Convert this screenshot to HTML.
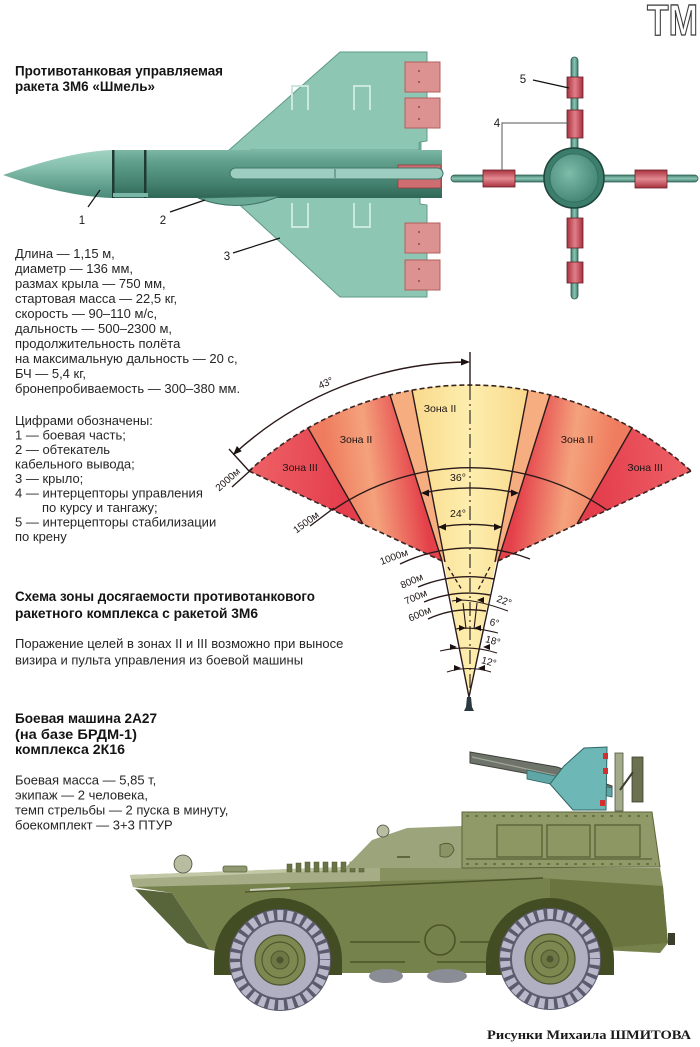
<!DOCTYPE html>
<html><head><meta charset="utf-8">
<style>
html,body{margin:0;padding:0;background:#fff;}
svg{display:block;}
text{font-family:"Liberation Sans",Arial,sans-serif;}
</style></head>
<body>
<svg width="700" height="1047" viewBox="0 0 700 1047" xmlns="http://www.w3.org/2000/svg">
<defs>
  <linearGradient id="gIIIl" x1="249" y1="471" x2="345" y2="480" gradientUnits="userSpaceOnUse"><stop offset="0" stop-color="#ee6266"/><stop offset="1" stop-color="#e43e4d"/></linearGradient>
  <linearGradient id="gIIl" x1="330" y1="472" x2="418" y2="460" gradientUnits="userSpaceOnUse"><stop offset="0" stop-color="#ef7c5e"/><stop offset="0.45" stop-color="#f4a27c"/><stop offset="1" stop-color="#e4404a"/></linearGradient>
  <linearGradient id="gIIr" x1="522" y1="460" x2="610" y2="472" gradientUnits="userSpaceOnUse"><stop offset="0" stop-color="#e4404a"/><stop offset="0.55" stop-color="#f4a27c"/><stop offset="1" stop-color="#ef7c5e"/></linearGradient>
  <linearGradient id="gIIIr" x1="595" y1="480" x2="691" y2="471" gradientUnits="userSpaceOnUse"><stop offset="0" stop-color="#e43e4d"/><stop offset="1" stop-color="#ee6266"/></linearGradient>
  <linearGradient id="gY" x1="412" y1="0" x2="528" y2="0" gradientUnits="userSpaceOnUse"><stop offset="0" stop-color="#f9d98c"/><stop offset="0.5" stop-color="#fdeeae"/><stop offset="1" stop-color="#f9d98c"/></linearGradient>
  <linearGradient id="gBody" x1="0" y1="150" x2="0" y2="198" gradientUnits="userSpaceOnUse"><stop offset="0" stop-color="#7db7a5"/><stop offset="0.25" stop-color="#5f9f8c"/><stop offset="0.7" stop-color="#44826f"/><stop offset="1" stop-color="#2f6656"/></linearGradient>
  <linearGradient id="gNose" x1="0" y1="150" x2="0" y2="198" gradientUnits="userSpaceOnUse"><stop offset="0" stop-color="#a2d3c3"/><stop offset="0.35" stop-color="#86c0ae"/><stop offset="1" stop-color="#4a8a78"/></linearGradient>
  <radialGradient id="gDisc" cx="0.4" cy="0.4" r="0.7"><stop offset="0" stop-color="#7fbcaa"/><stop offset="1" stop-color="#3e806e"/></radialGradient>
  <linearGradient id="gRedV" x1="0" y1="0" x2="1" y2="0"><stop offset="0" stop-color="#a8323e"/><stop offset="0.5" stop-color="#e07e88"/><stop offset="1" stop-color="#a8323e"/></linearGradient>
  <linearGradient id="gRedH" x1="0" y1="0" x2="0" y2="1"><stop offset="0" stop-color="#a8323e"/><stop offset="0.5" stop-color="#e48a92"/><stop offset="1" stop-color="#a8323e"/></linearGradient>
  <linearGradient id="gRodV" x1="0" y1="0" x2="1" y2="0"><stop offset="0" stop-color="#3f7c6c"/><stop offset="0.5" stop-color="#8cc6b5"/><stop offset="1" stop-color="#3f7c6c"/></linearGradient>
  <linearGradient id="gRodH" x1="0" y1="0" x2="0" y2="1"><stop offset="0" stop-color="#3f7c6c"/><stop offset="0.5" stop-color="#8cc6b5"/><stop offset="1" stop-color="#3f7c6c"/></linearGradient>
</defs>
<rect width="700" height="1047" fill="#fff"/>

<!-- TM logo -->
<text x="647" y="35" font-size="44" font-weight="bold" fill="#fff" stroke="#3a3a3a" stroke-width="1.3" textLength="51" lengthAdjust="spacingAndGlyphs">ТМ</text>

<!-- Title -->
<g font-weight="bold" font-size="13.5" fill="#141414">
  <text x="15" y="75.5" textLength="208" lengthAdjust="spacingAndGlyphs">Противотанковая управляемая</text>
  <text x="15" y="91" textLength="140" lengthAdjust="spacingAndGlyphs">ракета 3М6 «Шмель»</text>
</g>

<!-- ===== Missile side view ===== -->
<g>
  <path d="M228,151 L340,52 L427,52 L427,141 L420,142 L420,151 Z" fill="#8ec6b4" stroke="#5d998a" stroke-width="1"/>
  <path d="M230,196 L340,297 L427,297 L427,205 L420,204 L420,196 Z" fill="#8ec6b4" stroke="#5d998a" stroke-width="1"/>
  <path d="M250,151 L420,151 L420,142" fill="none" stroke="#6aa896" stroke-width="3"/>
  <g fill="none" stroke="#cbe8de" stroke-width="2">
    <path d="M292,110 L292,86 L308,86 L308,110"/>
    <path d="M354,110 L354,86 L370,86 L370,110"/>
    <path d="M292,203 L292,227 L308,227 L308,203"/>
    <path d="M354,203 L354,227 L370,227 L370,203"/>
  </g>
  <g fill="#dc9290" stroke="#b2605e" stroke-width="1">
    <rect x="405" y="62" width="35" height="30"/>
    <rect x="405" y="98" width="35" height="30"/>
    <rect x="405" y="223" width="35" height="30"/>
    <rect x="405" y="260" width="35" height="30"/>
  </g>
  <g fill="#8a4a48">
    <circle cx="419" cy="71" r="1"/><circle cx="419" cy="82" r="1"/>
    <circle cx="419" cy="107" r="1"/><circle cx="419" cy="119" r="1"/>
    <circle cx="419" cy="232" r="1"/><circle cx="419" cy="244" r="1"/>
    <circle cx="419" cy="269" r="1"/><circle cx="419" cy="281" r="1"/>
  </g>
  <rect x="112" y="150" width="330" height="48" fill="url(#gBody)"/>
  <path d="M3,175 C40,162 80,151 112,150 L112,198 C80,197 40,188 3,175 Z" fill="url(#gNose)"/>
  <rect x="112" y="150" width="2.5" height="48" fill="#1e3b33"/>
  <rect x="144" y="150" width="2.5" height="48" fill="#1e3b33"/>
  <rect x="398" y="165" width="43" height="23" fill="#cf6e72" stroke="#8f3e42" stroke-width="0.8"/>
  <rect x="230" y="168" width="213" height="11" rx="5.5" fill="#9ccdbf" stroke="#3f7868" stroke-width="1"/>
  <line x1="335" y1="169" x2="335" y2="178" stroke="#3f7868" stroke-width="1"/>
  <path d="M198,198 Q238,214 280,196 Z" fill="#6aa896" stroke="#3d7263" stroke-width="1"/>
  <rect x="113" y="193" width="35" height="4" fill="#7ab6a5"/>
  <line x1="88" y1="207" x2="100" y2="190" stroke="#111" stroke-width="1.2"/>
  <line x1="170" y1="212" x2="205" y2="200" stroke="#111" stroke-width="1.2"/>
  <line x1="233" y1="253" x2="280" y2="238" stroke="#111" stroke-width="1.2"/>
  <g font-size="11.5" fill="#1a1a1a" text-anchor="middle">
    <text x="82" y="224">1</text>
    <text x="163" y="224">2</text>
    <text x="227" y="260">3</text>
  </g>
</g>

<!-- ===== Missile front view ===== -->
<g>
  <rect x="571" y="57" width="7" height="242" rx="3.5" fill="url(#gRodV)" stroke="#2c5a4d" stroke-width="0.8"/>
  <rect x="451" y="175" width="247" height="7" rx="3.5" fill="url(#gRodH)" stroke="#2c5a4d" stroke-width="0.8"/>
  <g stroke="#6a2028" stroke-width="0.8">
    <rect x="567" y="77" width="16" height="21" fill="url(#gRedV)"/>
    <rect x="567" y="110" width="16" height="28" fill="url(#gRedV)"/>
    <rect x="567" y="218" width="16" height="30" fill="url(#gRedV)"/>
    <rect x="567" y="262" width="16" height="21" fill="url(#gRedV)"/>
    <rect x="483" y="170" width="32" height="17" fill="url(#gRedH)"/>
    <rect x="635" y="170" width="32" height="18" fill="url(#gRedH)"/>
  </g>
  <circle cx="574" cy="178" r="30" fill="#3c7d6c" stroke="#1d443a" stroke-width="1.5"/>
  <circle cx="574" cy="178" r="24" fill="url(#gDisc)" stroke="#2f6a5a" stroke-width="0.8"/>
  <line x1="533" y1="80" x2="569" y2="88" stroke="#111" stroke-width="1.2"/>
  <polyline points="569,123 502,123 502,171" fill="none" stroke="#555" stroke-width="1"/>
  <g font-size="11.5" fill="#1a1a1a" text-anchor="middle">
    <text x="523" y="83">5</text>
    <text x="497" y="127">4</text>
  </g>
</g>

<!-- ===== Spec text ===== -->
<g font-size="13" fill="#262626">
  <text x="15" y="258">Длина — 1,15 м,</text>
  <text x="15" y="273">диаметр — 136 мм,</text>
  <text x="15" y="288">размах крыла — 750 мм,</text>
  <text x="15" y="303">стартовая масса — 22,5 кг,</text>
  <text x="15" y="318">скорость — 90–110 м/с,</text>
  <text x="15" y="333">дальность — 500–2300 м,</text>
  <text x="15" y="348">продолжительность полёта</text>
  <text x="15" y="363">на максимальную дальность — 20 с,</text>
  <text x="15" y="378">БЧ — 5,4 кг,</text>
  <text x="15" y="393">бронепробиваемость — 300–380 мм.</text>
  <text x="15" y="425">Цифрами обозначены:</text>
  <text x="15" y="439.5">1 — боевая часть;</text>
  <text x="15" y="454">2 — обтекатель</text>
  <text x="15" y="468.5">кабельного вывода;</text>
  <text x="15" y="483">3 — крыло;</text>
  <text x="15" y="497.5">4 — интерцепторы управления</text>
  <text x="42" y="512">по курсу и тангажу;</text>
  <text x="15" y="526.5">5 — интерцепторы стабилизации</text>
  <text x="15" y="541">по крену</text>
</g>

<!-- ===== Fan diagram ===== -->
<g>
  <path d="M249,471 A327,327 0 0,1 308,428 L363,524 Z" fill="url(#gIIIl)"/>
  <path d="M308,428 A327,327 0 0,1 390,395 L442,561 L363,524 Z" fill="url(#gIIl)"/>
  <path d="M390,395 A327,327 0 0,1 412,390 L445,562 L442,561 Z" fill="#f6ae80"/>
  <path d="M412,390 A327,327 0 0,1 528,390 L496,562 L469,697 L444,562 Z" fill="url(#gY)"/>
  <path d="M528,390 A327,327 0 0,1 550,395 L498,561 L495,562 Z" fill="#f6ae80"/>
  <path d="M550,395 A327,327 0 0,1 632,428 L577,524 L498,561 Z" fill="url(#gIIr)"/>
  <path d="M632,428 A327,327 0 0,1 691,471 L577,524 Z" fill="url(#gIIIr)"/>

  <g fill="none" stroke="#3a2424" stroke-width="1.6" stroke-dasharray="5,3">
    <path d="M249,471 A327,327 0 0,1 691,471"/>
    <path d="M249,471 L442,561"/>
    <path d="M691,471 L498,561"/>
  </g>
  <g fill="none" stroke="#2a1a1a" stroke-width="1.4">
    <line x1="308" y1="428" x2="363" y2="524"/>
    <line x1="390" y1="395" x2="442" y2="561"/>
    <line x1="412" y1="390" x2="445" y2="562"/>
    <line x1="528" y1="390" x2="495" y2="562"/>
    <line x1="550" y1="395" x2="498" y2="561"/>
    <line x1="632" y1="428" x2="577" y2="524"/>
    <line x1="442" y1="561" x2="469" y2="697"/>
    <line x1="498" y1="561" x2="469" y2="697"/>
    <path d="M333,510 A243,243 0 0,1 607,510"/>
    <path d="M423,493 A224,224 0 0,1 517,493"/>
    <path d="M439,527 A187,187 0 0,1 501,527"/>
    <path d="M400,564 A164,164 0 0,1 530,559"/>
    <path d="M418,587 A135,135 0 0,1 494,579"/>
    <path d="M424,602 A119,119 0 0,1 490,595"/>
    <path d="M428,619 A102,102 0 0,1 486,611"/>
    <path d="M234,454 A350,350 0 0,1 468,362"/>
    <line x1="249" y1="471" x2="229" y2="449"/>
    <line x1="232" y1="487" x2="252" y2="469"/>
    <line x1="310" y1="526" x2="334" y2="508"/>
    <line x1="470" y1="352" x2="470" y2="386"/>
  </g>
  <g fill="none" stroke="#2a1a1a" stroke-width="1.1">
    <path d="M452,601 Q470,597 508,611"/>
    <path d="M456,629 Q469,626 498,633"/>
    <path d="M440,651 Q469,644 497,653"/>
    <path d="M447,672 Q469,665 491,672"/>
    <line x1="463" y1="603" x2="466" y2="629"/>
    <line x1="477" y1="603" x2="474" y2="629"/>
  </g>
  <g fill="none" stroke="#2a1a1a" stroke-width="1.3" stroke-dasharray="4,3">
    <line x1="448" y1="567" x2="462" y2="590"/>
    <line x1="490" y1="567" x2="478" y2="590"/>
  </g>
  <line x1="470" y1="386" x2="470" y2="700" stroke="#2a1a1a" stroke-width="1.1" stroke-dasharray="14,4,2,4"/>
  <g fill="#1a1010">
    <polygon points="470,362 461,358.5 461,365.5"/>
    <polygon points="233,455 241.7,451.2 236.9,446"/>
    <polygon points="421,493 429,489.5 429,496.5"/>
    <polygon points="519,493 511,489.5 511,496.5"/>
    <polygon points="438,527 446,523.5 446,530.5"/>
    <polygon points="502,527 494,523.5 494,530.5"/>
    <polygon points="463,600 456,597 456,603"/>
    <polygon points="477,600 484,597 484,603"/>
    <polygon points="466,628 459,625 459,631"/>
    <polygon points="474,628 481,625 481,631"/>
    <polygon points="457,647 450,644 450,650"/>
    <polygon points="483,647 490,644 490,650"/>
    <polygon points="461,668 454,665 454,671"/>
    <polygon points="478,668 485,665 485,671"/>
  </g>
  <path d="M467,697 L471,697 L472,707 L474,711 L464,711 L466,707 Z" fill="#2a3a40"/>

  <g font-size="10.5" fill="#1e1414" text-anchor="middle">
    <text x="300" y="471">Зона III</text>
    <text x="356" y="443">Зона II</text>
    <text x="440" y="412">Зона II</text>
    <text x="577" y="443">Зона II</text>
    <text x="645" y="471">Зона III</text>
    <text x="458" y="481">36°</text>
    <text x="458" y="517">24°</text>
  </g>
  <g font-size="10" fill="#1e1414" text-anchor="middle">
    <text transform="translate(327,386) rotate(-24)">43°</text>
    <text transform="translate(230,482) rotate(-42)">2000м</text>
    <text transform="translate(308,525) rotate(-37)">1500м</text>
    <text transform="translate(395,560) rotate(-20)">1000м</text>
    <text transform="translate(413,584) rotate(-24)">800м</text>
    <text transform="translate(417,600) rotate(-24)">700м</text>
    <text transform="translate(421,617) rotate(-24)">600м</text>
    <text transform="translate(503,604) rotate(20)">22°</text>
    <text transform="translate(494,626) rotate(10)">6°</text>
    <text transform="translate(492,644) rotate(15)">18°</text>
    <text transform="translate(488,665) rotate(15)">12°</text>
  </g>
</g>

<!-- ===== Section 2 text ===== -->
<g font-weight="bold" font-size="13.5" fill="#141414">
  <text x="15" y="601" textLength="300" lengthAdjust="spacingAndGlyphs">Схема зоны досягаемости противотанкового</text>
  <text x="15" y="618" textLength="243" lengthAdjust="spacingAndGlyphs">ракетного комплекса с ракетой 3М6</text>
  <text x="15" y="723" textLength="142" lengthAdjust="spacingAndGlyphs">Боевая машина 2А27</text>
  <text x="15" y="739" textLength="122" lengthAdjust="spacingAndGlyphs">(на базе БРДМ-1)</text>
  <text x="15" y="754" textLength="110" lengthAdjust="spacingAndGlyphs">комплекса 2К16</text>
</g>
<g font-size="13" fill="#262626">
  <text x="15" y="648">Поражение целей в зонах II и III возможно при выносе</text>
  <text x="15" y="664.5">визира и пульта управления из боевой машины</text>
  <text x="15" y="784.5">Боевая масса — 5,85 т,</text>
  <text x="15" y="799.5">экипаж — 2 человека,</text>
  <text x="15" y="814.5">темп стрельбы — 2 пуска в минуту,</text>
  <text x="15" y="829.5">боекомплект — 3+3 ПТУР</text>
</g>

<!-- ===== Vehicle ===== -->
<g>
  <!-- launcher -->
  <path d="M470,752 L557,767 L612,786 L612,795 L557,779 L470,763 Z" fill="#6f746a" stroke="#3c3f38" stroke-width="1"/>
  <line x1="472" y1="757" x2="600" y2="785" stroke="#a2a69a" stroke-width="1.2"/>
  <path d="M527,770 L612,788 L612,797 L527,779 Z" fill="#5fa7a6" stroke="#2f6566" stroke-width="0.8"/>
  <path d="M550,784 L564,766 L584,748 L607,747 L606,810 L573,810 Z" fill="#6db8b6" stroke="#2f6566" stroke-width="1"/>
  <rect x="603" y="753" width="5" height="6" fill="#d03030"/>
  <rect x="603" y="768" width="5" height="6" fill="#d03030"/>
  <rect x="600" y="800" width="5" height="6" fill="#d03030"/>
  <rect x="615" y="753" width="8" height="58" fill="#a4aa8c" stroke="#4e5440" stroke-width="0.8"/>
  <rect x="632" y="757" width="11" height="45" fill="#6a7050" stroke="#3a3e2c" stroke-width="0.8"/>
  <line x1="620" y1="790" x2="633" y2="772" stroke="#3a3e2c" stroke-width="2"/>

  <!-- hull main -->
  <path d="M133,887 L172,893 L210,950 L340,973 L497,973 L603,950 L660,953 L668,943 L663,887 L660,868 L462,868 L380,868 L130,875 Z" fill="#76824c"/>
  <!-- front deck light band -->
  <path d="M130,875 L345,867 L380,868 L380,881 L133,887 Z" fill="#a5ac86"/>
  <path d="M130,875 L345,867 L345,870 L131,879 Z" fill="#c2c7a6"/>
  <!-- band under cabin/box -->
  <path d="M380,868 L660,868 L663,886 L543,878 L380,881 Z" fill="#87915f"/>
  <!-- rear darker side -->
  <path d="M550,879 L663,886 L668,943 L603,948 L550,930 Z" fill="#69743f"/>
  <!-- dark lower bow -->
  <path d="M135,889 L172,893 L210,950 L187,943 Z" fill="#58643a"/>
  <!-- handrail -->
  <line x1="370" y1="886" x2="543" y2="878" stroke="#4a5428" stroke-width="1.5"/>
  <line x1="245" y1="892" x2="370" y2="886" stroke="#4a5428" stroke-width="1.2"/>
  <line x1="250" y1="890" x2="290" y2="888" stroke="#c9ccb8" stroke-width="2"/>
  <!-- deck hatch -->
  <rect x="223" y="866" width="24" height="6" rx="2" fill="#8f9870" stroke="#5a6438" stroke-width="0.8"/>
  <!-- deck bumps -->
  <g fill="#6a7446" stroke="#4a5428" stroke-width="0.5">
    <rect x="287" y="864" width="5" height="8"/><rect x="296" y="863" width="5" height="9"/>
    <rect x="305" y="862" width="5" height="10"/><rect x="314" y="862" width="5" height="10"/>
    <rect x="323" y="862" width="5" height="10"/><rect x="332" y="862" width="5" height="10"/>
    <rect x="341" y="862" width="5" height="10"/><rect x="350" y="862" width="5" height="10"/>
    <rect x="359" y="862" width="5" height="10"/>
  </g>
  <!-- cabin -->
  <path d="M345,868 L372,840 L407,828 L462,826 L462,868 Z" fill="#9ca47b"/>
  <path d="M440,845 Q452,840 454,850 Q450,860 440,856 Z" fill="#8a9366" stroke="#4a5428" stroke-width="0.8"/>
  <line x1="397" y1="857" x2="410" y2="857" stroke="#4a5428" stroke-width="1.5"/>
  <circle cx="383" cy="831" r="6" fill="#b8bca0" stroke="#4a4a3a" stroke-width="0.8"/>
  <circle cx="183" cy="864" r="9" fill="#b8bca0" stroke="#4a4a3a" stroke-width="0.8"/>
  <!-- box -->
  <path d="M462,812 L652,812 L660,867 L462,868 Z" fill="#8f9a68" stroke="#5b6638" stroke-width="1"/>
  <line x1="466" y1="816" x2="648" y2="816" stroke="#5b6638" stroke-width="1.4" stroke-dasharray="3,6"/>
  <line x1="466" y1="864" x2="656" y2="864" stroke="#5b6638" stroke-width="1.4" stroke-dasharray="3,6"/>
  <g fill="#8c9764" stroke="#566135" stroke-width="1.3">
    <rect x="497" y="825" width="45" height="32"/>
    <rect x="547" y="825" width="43" height="32"/>
    <rect x="595" y="825" width="45" height="32"/>
  </g>
  <line x1="466" y1="859" x2="652" y2="859" stroke="#566135" stroke-width="1.2"/>
  <!-- arches -->
  <path d="M214,975 L214,960 A64,62 0 0,1 342,960 L342,975 Z" fill="#434d24"/>
  <path d="M486,975 L486,960 A64,62 0 0,1 614,960 L614,975 Z" fill="#434d24"/>
  <!-- side details -->
  <circle cx="440" cy="940" r="15" fill="none" stroke="#4a5428" stroke-width="1.6"/>
  <g stroke="#4a5428" stroke-width="1.5">
    <line x1="350" y1="942" x2="420" y2="942"/><line x1="460" y1="942" x2="490" y2="942"/>
    <line x1="350" y1="962" x2="405" y2="962"/><line x1="437" y1="962" x2="490" y2="962"/>
  </g>
  <!-- belly wheels -->
  <ellipse cx="386" cy="976" rx="17" ry="7" fill="#8a8c96"/>
  <ellipse cx="447" cy="976" rx="20" ry="7" fill="#8a8c96"/>
  <!-- wheels -->
  <g>
    <circle cx="280" cy="960" r="51" fill="#5a5c6e"/>
    <circle cx="280" cy="960" r="45" fill="none" stroke="#b8b8ca" stroke-width="10" stroke-dasharray="6,3.5"/>
    <circle cx="280" cy="960" r="38" fill="#b0b0c2"/>
    <circle cx="280" cy="960" r="25" fill="#7d8850" stroke="#4d5630" stroke-width="1.2"/>
    <circle cx="280" cy="960" r="18" fill="none" stroke="#4d5630" stroke-width="1.2"/>
    <circle cx="280" cy="960" r="9" fill="#6d7845" stroke="#4d5630"/>
    <circle cx="280" cy="960" r="3.5" fill="#4d5630"/>
  </g>
  <g>
    <circle cx="550" cy="959" r="51" fill="#5a5c6e"/>
    <circle cx="550" cy="959" r="45" fill="none" stroke="#b8b8ca" stroke-width="10" stroke-dasharray="6,3.5"/>
    <circle cx="550" cy="959" r="38" fill="#b0b0c2"/>
    <circle cx="550" cy="959" r="25" fill="#7d8850" stroke="#4d5630" stroke-width="1.2"/>
    <circle cx="550" cy="959" r="18" fill="none" stroke="#4d5630" stroke-width="1.2"/>
    <circle cx="550" cy="959" r="9" fill="#6d7845" stroke="#4d5630"/>
    <circle cx="550" cy="959" r="3.5" fill="#4d5630"/>
  </g>
  <rect x="668" y="933" width="7" height="12" fill="#3a3e2c"/>
</g>

<!-- credit -->
<text x="487" y="1039" font-size="12.5" font-weight="bold" fill="#1a1a1a" textLength="204" lengthAdjust="spacingAndGlyphs" style="font-family:'Liberation Serif',serif">Рисунки Михаила ШМИТОВА</text>
</svg>
</body></html>
